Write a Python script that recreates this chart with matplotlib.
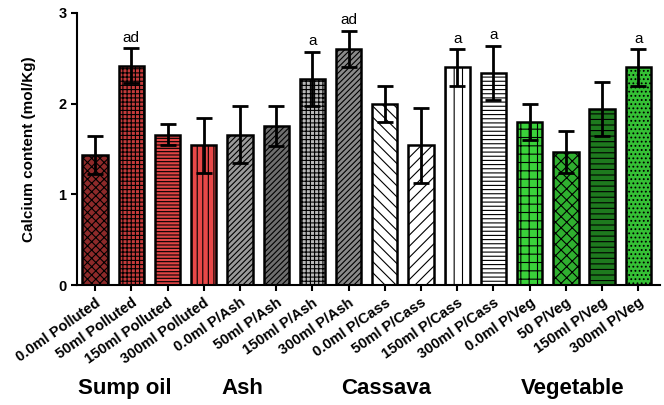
import numpy as np
import matplotlib
matplotlib.use('Agg')
import matplotlib.pyplot as plt
from matplotlib import transforms

plt.rcParams['font.family'] = ['Liberation Sans', 'DejaVu Sans']
plt.rcParams['hatch.linewidth'] = 0.8

# data
labels = ['0.0ml Polluted', '50ml Polluted', '150ml Polluted', '300ml Polluted',
          '0.0ml P/Ash', '50ml P/Ash', '150ml P/Ash', '300ml P/Ash',
          '0.0ml P/Cass', '50ml P/Cass', '150ml P/Cass', '300ml P/Cass',
          '0.0ml P/Veg', '50 P/Veg', '150ml P/Veg', '300ml P/Veg']
means = [1.43, 2.42, 1.66, 1.54, 1.66, 1.75, 2.27, 2.60,
         2.00, 1.54, 2.40, 2.34, 1.80, 1.47, 1.94, 2.40]
errors = [0.21, 0.19, 0.12, 0.30, 0.31, 0.22, 0.30, 0.20,
          0.20, 0.41, 0.20, 0.30, 0.20, 0.23, 0.30, 0.20]
letters = ['', 'ad', '', '', '', '', 'a', 'ad',
           '', '', 'a', 'a', '', '', '', 'a']
groups = ['Sump oil', 'Ash', 'Cassava', 'Vegetable']
group_x = [0.83, 4.06, 8.03, 13.2]

# styling per bar
colors = ['#8e2a2a', '#c43a3a', '#e04444', '#e84848',
          '#9a9a9a', '#6e6e6e', '#b8b8b8', '#8a8a8a',
          'white', 'white', 'white', 'white',
          '#3ad23a', '#2fb02f', '#1e7a1e', '#35c035']
hatches = ['xxxx', '++++', '-----', '|||',
           '//////', '//////', '++++', '//////',
           '\\\\\\', '///', '||', '----',
           '++', 'xxx', '---', '....']

fig = plt.figure(figsize=(6.64, 4.05), dpi=100)
ax = fig.add_axes([0.116, 0.296, 0.878, 0.672])

x = np.arange(len(means))
ax.bar(x, means, width=0.7, color=colors, hatch=hatches,
       edgecolor='black', linewidth=1.8, zorder=2)
ax.errorbar(x, means, yerr=errors, fmt='none', ecolor='black',
            elinewidth=2, capsize=5.5, capthick=2, zorder=3)

for xi, m, e, t in zip(x, means, errors, letters):
    if t:
        ax.text(xi, m + e + 0.04, t, ha='center', va='bottom', fontsize=11)

ax.set_xlim(-0.5, 15.6)
ax.set_ylim(0, 3)
ax.set_yticks([0, 1, 2, 3])
ax.set_xticks(x)
ax.set_xticklabels(labels, rotation=35, ha='right', rotation_mode='anchor',
                   fontsize=10.5, fontweight='bold')
for t in ax.get_yticklabels():
    t.set_fontweight('bold')
    t.set_fontsize(10.5)
ax.tick_params(axis='both', width=1.5, length=4, direction='out')
ax.spines['top'].set_visible(False)
ax.spines['right'].set_visible(False)
ax.spines['left'].set_linewidth(1.5)
ax.spines['bottom'].set_linewidth(1.5)
ax.set_ylabel('Calcium content (mol/Kg)', fontsize=11, fontweight='bold',
              labelpad=16)

trans = transforms.blended_transform_factory(ax.transData, ax.transAxes)
for gx, g in zip(group_x, groups):
    ax.text(gx, -0.38, g, transform=trans, ha='center', va='center',
            fontsize=16, fontweight='bold')

fig.savefig('out.png', dpi=100)
